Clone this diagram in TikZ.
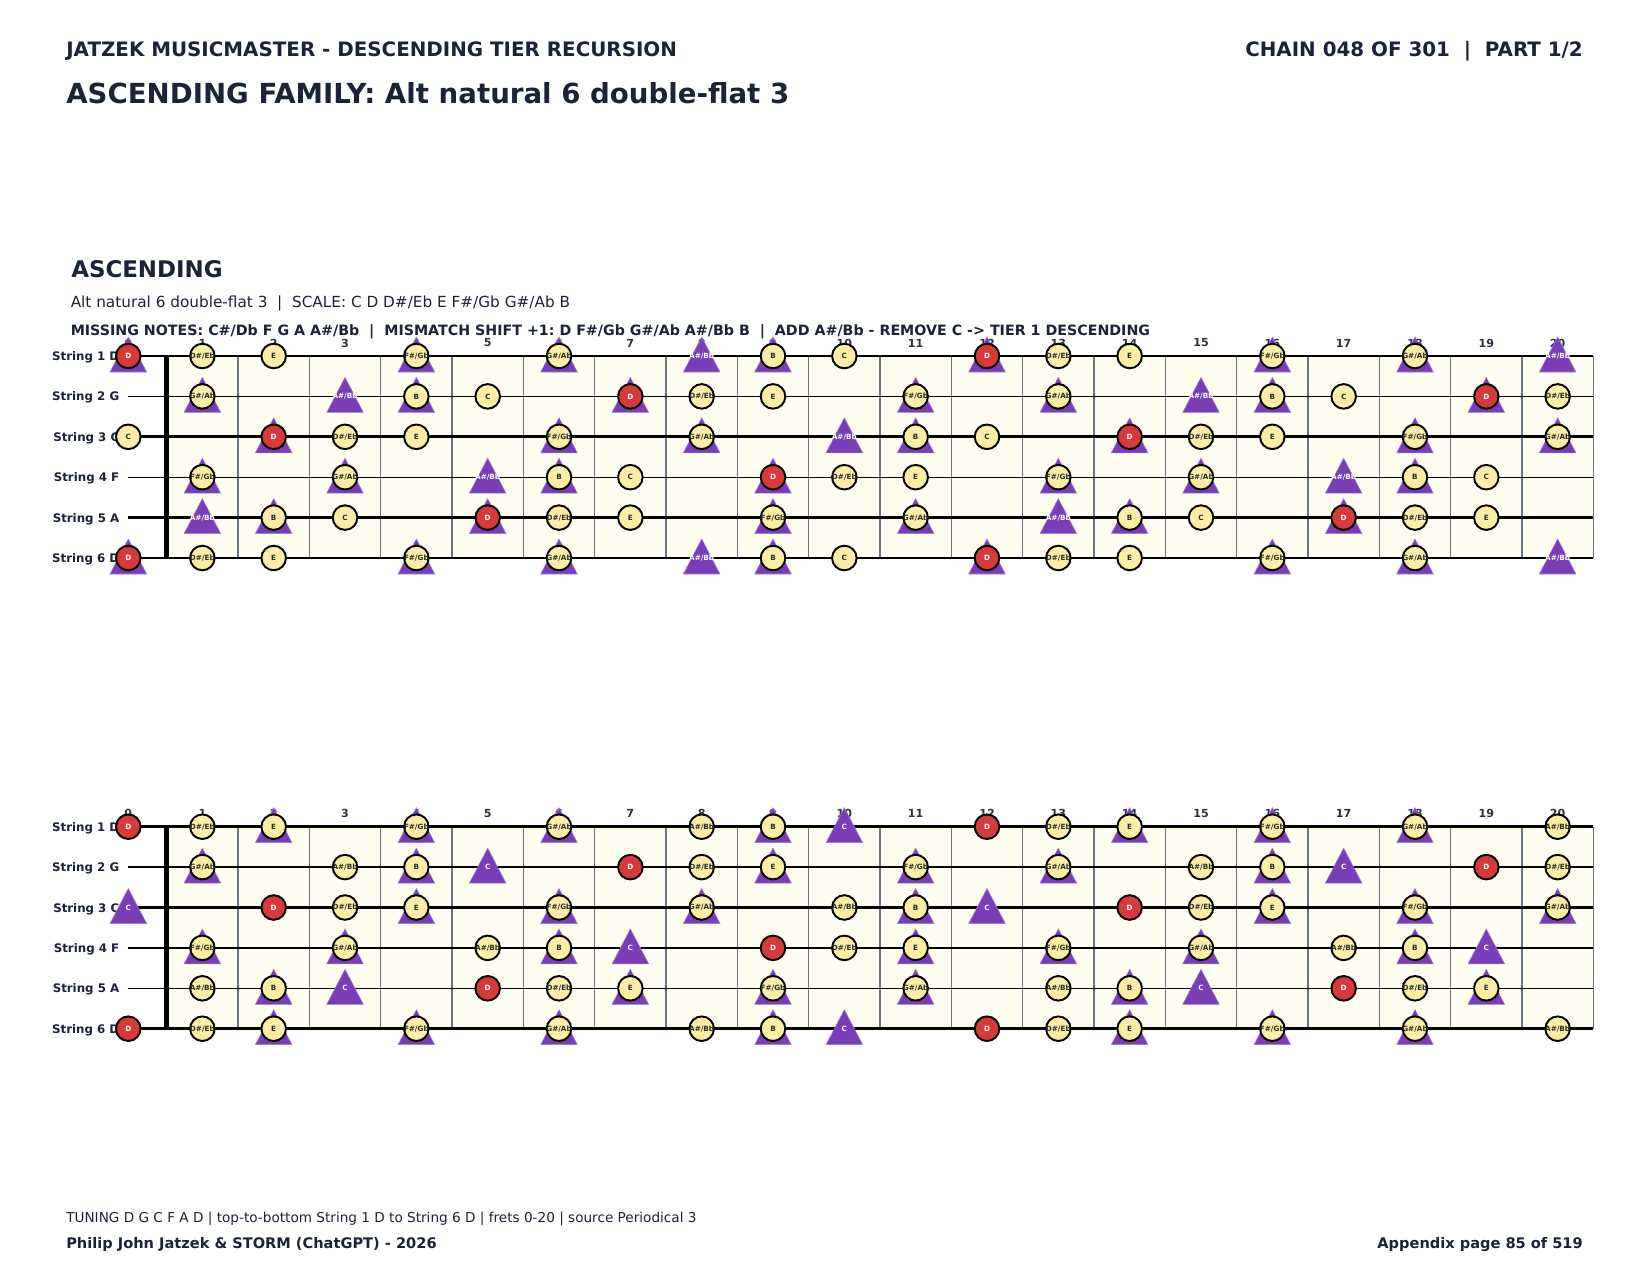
\documentclass[tikz,border=0pt]{standalone}
\usepackage{fontspec}
\setmainfont{DejaVu Sans}
\frenchspacing
\definecolor{ink}{HTML}{1B2336}
\definecolor{cream}{HTML}{FFFDF0}
\definecolor{wire}{HTML}{687384}
\definecolor{noteyel}{HTML}{FCEDA6}
\definecolor{notered}{HTML}{D63A3A}
\definecolor{tripur}{HTML}{7A3DB8}
\definecolor{tripedge}{HTML}{A07AD6}
\definecolor{numink}{HTML}{2B3344}
\definecolor{noteink}{HTML}{2A2A2A}
\newcommand\nname[1]{\ifcase#1 C\or C\#/Db\or D\or D\#/Eb\or E\or F\or F\#/Gb\or G\or G\#/Ab\or A\or A\#/Bb\or B\fi}
\tikzset{
  txt/.style={inner sep=0, text=ink},
  hdrtxt/.style={txt, font=\fontsize{14.3}{16}\selectfont\bfseries},
  titletxt/.style={txt, font=\fontsize{19.9}{23}\selectfont\bfseries},
  secttxt/.style={txt, font=\fontsize{16.5}{19}\selectfont\bfseries},
  infotxt/.style={txt, font=\fontsize{11}{13}\selectfont},
  infobold/.style={txt, font=\fontsize{10.25}{12}\selectfont\bfseries},
  foottxt/.style={txt, font=\fontsize{9.8}{11}\selectfont},
  footbold/.style={txt, font=\fontsize{10.5}{12}\selectfont\bfseries},
  strlab/.style={inner sep=0, text=ink, anchor=base east, font=\fontsize{8.5}{10}\selectfont\bfseries},
  fretnum/.style={inner sep=0, text=numink, font=\fontsize{8}{10}\selectfont\bfseries},
  tri/.style={fill=tripur, draw=tripedge, line width=0.4pt},
  tritext/.style={inner sep=0, text=white, font=\fontsize{5.2}{6}\selectfont\bfseries},
  notec/.style={circle, draw=black, line width=1.4pt, minimum size=17.7pt, inner sep=0, font=\fontsize{5.2}{6}\selectfont\bfseries},
  yelc/.style={notec, fill=noteyel, text=noteink},
  redc/.style={notec, fill=notered, text=white},
  wireline/.style={draw=wire, line width=0.8pt},
  nutline/.style={draw=black, line width=3.4pt}
}
% #1 prefix, #2 y of string 1, #3 string widths, #4 circle set, #5 triangle set
\newcommand\drawboard[5]{%
  \pgfmathsetmacro\ya{#2}%
  \pgfmathsetmacro\yb{#2+5*40.4}%
  \fill[cream] (166.7,\ya) rectangle (1593.3,\yb);
  \foreach \k in {1,...,20}{%
    \pgfmathsetmacro\wx{166.7+\k*71.33}%
    \draw[wireline] (\wx,\ya) -- (\wx,\yb);
  }
  \foreach \s/\nm in {1/D,2/G,3/C,4/F,5/A,6/D}{%
    \pgfmathsetmacro\y{#2+(\s-1)*40.4}%
    \pgfmathtruncatemacro\si{\s-1}%
    \pgfmathsetmacro\lw{{#3}[\si]}%
    \draw[line width=\lw pt, black] (128.3,\y) -- (1593.3,\y);
    \node[strlab] (#1-sl-\s) at (119.5,\y+4.5) {String \s\ \nm};
  }
  \draw[nutline] (166.7,\ya) -- (166.7,\yb);
  \foreach \k in {0,...,20}{%
    \pgfmathsetmacro\fx{ifthenelse(\k==0,128.3,166.7+(\k-0.5)*71.33)}%
    \node[fretnum] (#1-fn-\k) at (\fx,\ya-13) {\k};
  }
  \foreach \s/\o in {1/2,2/7,3/0,4/5,5/9,6/2}{%
    \pgfmathsetmacro\y{#2+(\s-1)*40.4}%
    \foreach \k in {0,...,20}{%
      \pgfmathsetmacro\fx{ifthenelse(\k==0,128.3,166.7+(\k-0.5)*71.33)}%
      \pgfmathtruncatemacro\n{mod(\o+\k,12)}%
      \pgfmathtruncatemacro\isc{{#4}[\n]}%
      \pgfmathtruncatemacro\ist{{#5}[\n]}%
      \ifnum\ist=1
        \fill[tri] (\fx,\y-19) -- (\fx-18.3,\y+16) -- (\fx+18.3,\y+16) -- cycle;
        \ifnum\isc=0
          \node[tritext] (#1-t-\s-\k) at (\fx,\y) {\makebox[0pt][c]{\nname{\n}}};
        \fi
      \fi
      \ifnum\isc=1
        \ifnum\n=2
          \node[redc] (#1-c-\s-\k) at (\fx,\y) {\makebox[0pt][c]{\nname{\n}}};
        \else
          \node[yelc] (#1-c-\s-\k) at (\fx,\y) {\makebox[0pt][c]{\nname{\n}}};
        \fi
      \fi
    }
  }
}
\begin{document}
\begin{tikzpicture}[x=0.72pt,y=-0.72pt]
\useasboundingbox (0,0) rectangle (1650,1275);
\fill[white] (0,0) rectangle (1650,1275);
\node[hdrtxt, anchor=base west] (hdr) at (66,56.5) {JATZEK MUSICMASTER - DESCENDING TIER RECURSION};
\node[hdrtxt, anchor=base east] (chain) at (1583,56.5) {CHAIN 048 OF 301\ \ |\ \ PART 1/2};
\node[titletxt, anchor=base west] (title) at (66,104) {ASCENDING FAMILY: Alt natural 6 double-flat 3};
\node[secttxt, anchor=base west] (sect) at (71,277.5) {ASCENDING};
\node[infotxt, anchor=base west] (scale) at (70.5,307) {Alt natural 6 double-flat 3\ \ |\ \ SCALE: C D D\#/Eb E F\#/Gb G\#/Ab B};
\node[infobold, anchor=base west] (miss) at (70.5,335) {MISSING NOTES: C\#/Db F G A A\#/Bb\ \ |\ \ MISMATCH SHIFT +1: D F\#/Gb G\#/Ab A\#/Bb B\ \ |\ \ ADD A\#/Bb - REMOVE C -> TIER 1 DESCENDING};
\drawboard{top}{356}{0.9,0.9,2.2,0.9,2.2,0.9}{1,0,1,1,1,0,1,0,1,0,0,1}{0,0,1,0,0,0,1,0,1,0,1,1}
\drawboard{bot}{826.7}{2.2,0.9,2.2,0.9,0.9,2.2}{0,0,1,1,1,0,1,0,1,0,1,1}{1,0,0,0,1,0,1,0,1,0,0,1}
\node[foottxt, anchor=base west] (tuning) at (66,1222) {TUNING D G C F A D | top-to-bottom String 1 D to String 6 D | frets 0-20 | source Periodical 3};
\node[footbold, anchor=base west] (author) at (66,1248.5) {Philip John Jatzek \& STORM (ChatGPT) - 2026};
\node[footbold, anchor=base east] (page) at (1583,1248.5) {Appendix page 85 of 519};
\end{tikzpicture}
\end{document}
